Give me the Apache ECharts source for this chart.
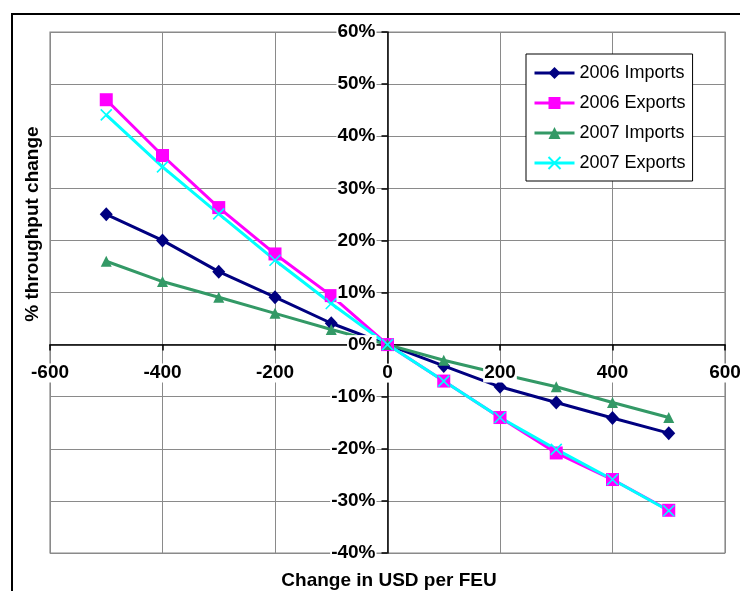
<!DOCTYPE html>
<html>
<head>
<meta charset="utf-8">
<script src="https://cdn.jsdelivr.net/npm/echarts@6/dist/echarts.min.js"></script>
<style>
  html, body { margin: 0; padding: 0; background: #fff; }
  #chart { width: 740px; height: 591px; }
</style>
</head>
<body>
<div id="chart"></div>
<script>
// Change in freight rate (USD per FEU) and resulting % change in throughput
const priceChange = [-500, -400, -300, -200, -100, 0, 100, 200, 300, 400, 500];
const imports2006 = [25, 20, 14, 9.1, 4.1, 0, -4.1, -8.1, -11.1, -14.1, -17];
const exports2006 = [47, 36.3, 26.3, 17.4, 9.4, 0, -7, -14, -20.8, -25.9, -31.8];
const imports2007 = [16, 12.1, 9.1, 6, 2.9, 0, -3, -5.6, -8.1, -11.1, -14];
const exports2007 = [44.1, 34.1, 25.1, 16.2, 7.9, 0, -7, -14, -20.1, -25.9, -31.9];

const xTicks = { min: -600, max: 600, step: 200 };
const yTicks = { min: -40, max: 60, step: 10 };

const FONT = '"Liberation Sans", Arial, sans-serif';
const plot = { left: 50, top: 32, right: 15, bottom: 38 };

function pairs(values) {
  return priceChange.map((x, i) => [x, values[i]]);
}

const crossPath = 'path://M0,0L10,10M10,0L0,10';

const chart = echarts.init(document.getElementById('chart'), null, { renderer: 'canvas' });

const seriesDefs = [
  { name: '2006 Imports', data: imports2006, color: '#000080', symbol: 'diamond', size: [13, 14] },
  { name: '2006 Exports', data: exports2006, color: '#FF00FF', symbol: 'rect', size: 13 },
  { name: '2007 Imports', data: imports2007, color: '#339966', symbol: 'triangle', size: 11 },
  { name: '2007 Exports', data: exports2007, color: '#00FFFF', symbol: crossPath, size: 11 }
];

const series = seriesDefs.map(s => {
  const isCross = s.symbol === crossPath;
  return {
    name: s.name,
    type: 'line',
    data: pairs(s.data),
    xAxisIndex: 0,
    yAxisIndex: 0,
    z: 5,
    symbol: s.symbol,
    symbolSize: s.size,
    showAllSymbol: true,
    lineStyle: { color: s.color, width: 3 },
    itemStyle: isCross
      ? { color: s.color, borderColor: s.color, borderWidth: 1.6 }
      : { color: s.color, borderWidth: 0 },
    emphasis: { disabled: true },
    animation: false
  };
});

const gridLine = { show: true, lineStyle: { color: '#8a8a8a', width: 1 } };
const tickLabel = {
  show: true, color: '#000', fontSize: 19, fontWeight: 'bold', fontFamily: FONT,
  backgroundColor: '#fff', padding: [0, 1, 0, 1],
  showMinLabel: true, showMaxLabel: true
};
const hidden = { show: false };

// Main plotting area: grid lines, axis lines crossing at zero, series
chart.setOption({
  backgroundColor: '#fff',
  animation: false,
  textStyle: { fontFamily: FONT },
  grid: [{
    left: plot.left, top: plot.top, right: plot.right, bottom: plot.bottom,
    outerBoundsMode: 'none', containLabel: false,
    show: true, backgroundColor: '#fff',
    borderColor: '#8a8a8a', borderWidth: 1.2
  }],
  legend: {
    orient: 'vertical',
    left: 526, top: 54,
    width: 167,
    padding: [9, 7, 8, 7],
    itemGap: 10,
    itemWidth: 40,
    itemHeight: 15,
    borderColor: '#000', borderWidth: 1,
    backgroundColor: '#fff',
    lineStyle: { width: 3 },
    textStyle: { fontFamily: FONT, fontSize: 18, color: '#000', lineHeight: 20 },
    data: seriesDefs.map(s => s.name)
  },
  xAxis: [{
    type: 'value', gridIndex: 0, min: xTicks.min, max: xTicks.max, interval: xTicks.step,
    position: 'bottom', z: 1,
    axisLine: { show: true, onZero: true, lineStyle: { color: '#000', width: 1.5 } },
    axisTick: { show: true, length: 6, lineStyle: { color: '#000', width: 1.5 } },
    axisLabel: hidden,
    splitLine: gridLine
  }],
  yAxis: [{
    type: 'value', gridIndex: 0, min: yTicks.min, max: yTicks.max, interval: yTicks.step,
    position: 'left', z: 1,
    axisLine: { show: true, onZero: true, lineStyle: { color: '#000', width: 1.5 } },
    axisTick: { show: true, length: 6, lineStyle: { color: '#000', width: 1.5 } },
    axisLabel: hidden,
    splitLine: gridLine
  }],
  graphic: [
    {
      type: 'rect', z: -10, silent: true,
      shape: { x: 12, y: 14, width: 760, height: 620 },
      style: { fill: 'none', stroke: '#000', lineWidth: 2 }
    },
    {
      type: 'text', x: 389, y: 581, z: 20,
      style: {
        text: 'Change in USD per FEU', fill: '#000',
        font: 'bold 19px ' + FONT, textAlign: 'center', textVerticalAlign: 'middle'
      }
    },
    {
      type: 'text', x: 33, y: 224, rotation: Math.PI / 2, z: 20,
      style: {
        text: '% throughput change', fill: '#000',
        font: 'bold 19px ' + FONT, textAlign: 'center', textVerticalAlign: 'middle'
      }
    }
  ],
  series: series
});

// Tick labels sit along the zero lines, on top of the series.
const origin = chart.convertToPixel({ gridIndex: 0 }, [0, 0]);
const zeroX = origin[0], zeroY = origin[1];

chart.setOption({
  grid: [
    {},
    { left: plot.left, right: plot.right, top: plot.top, height: zeroY - plot.top,
      outerBoundsMode: 'none', containLabel: false, show: false },
    { left: zeroX, width: 1, top: plot.top, bottom: plot.bottom,
      outerBoundsMode: 'none', containLabel: false, show: false }
  ],
  xAxis: [
    {},
    {
      type: 'value', gridIndex: 1, min: xTicks.min, max: xTicks.max, interval: xTicks.step,
      position: 'bottom', z: 10,
      axisLine: { show: false, onZero: false }, axisTick: hidden, splitLine: hidden,
      axisLabel: Object.assign({}, tickLabel, { margin: 19 })
    },
    {
      type: 'value', gridIndex: 2, min: 0, max: 1,
      axisLine: hidden, axisTick: hidden, splitLine: hidden, axisLabel: hidden
    }
  ],
  yAxis: [
    {},
    {
      type: 'value', gridIndex: 1, min: 0, max: 1,
      axisLine: hidden, axisTick: hidden, splitLine: hidden, axisLabel: hidden
    },
    {
      type: 'value', gridIndex: 2, min: yTicks.min, max: yTicks.max, interval: yTicks.step,
      position: 'left', z: 10,
      axisLine: { show: false, onZero: false }, axisTick: hidden, splitLine: hidden,
      axisLabel: Object.assign({}, tickLabel, { margin: 11, formatter: '{value}%' })
    }
  ]
});
</script>
</body>
</html>
